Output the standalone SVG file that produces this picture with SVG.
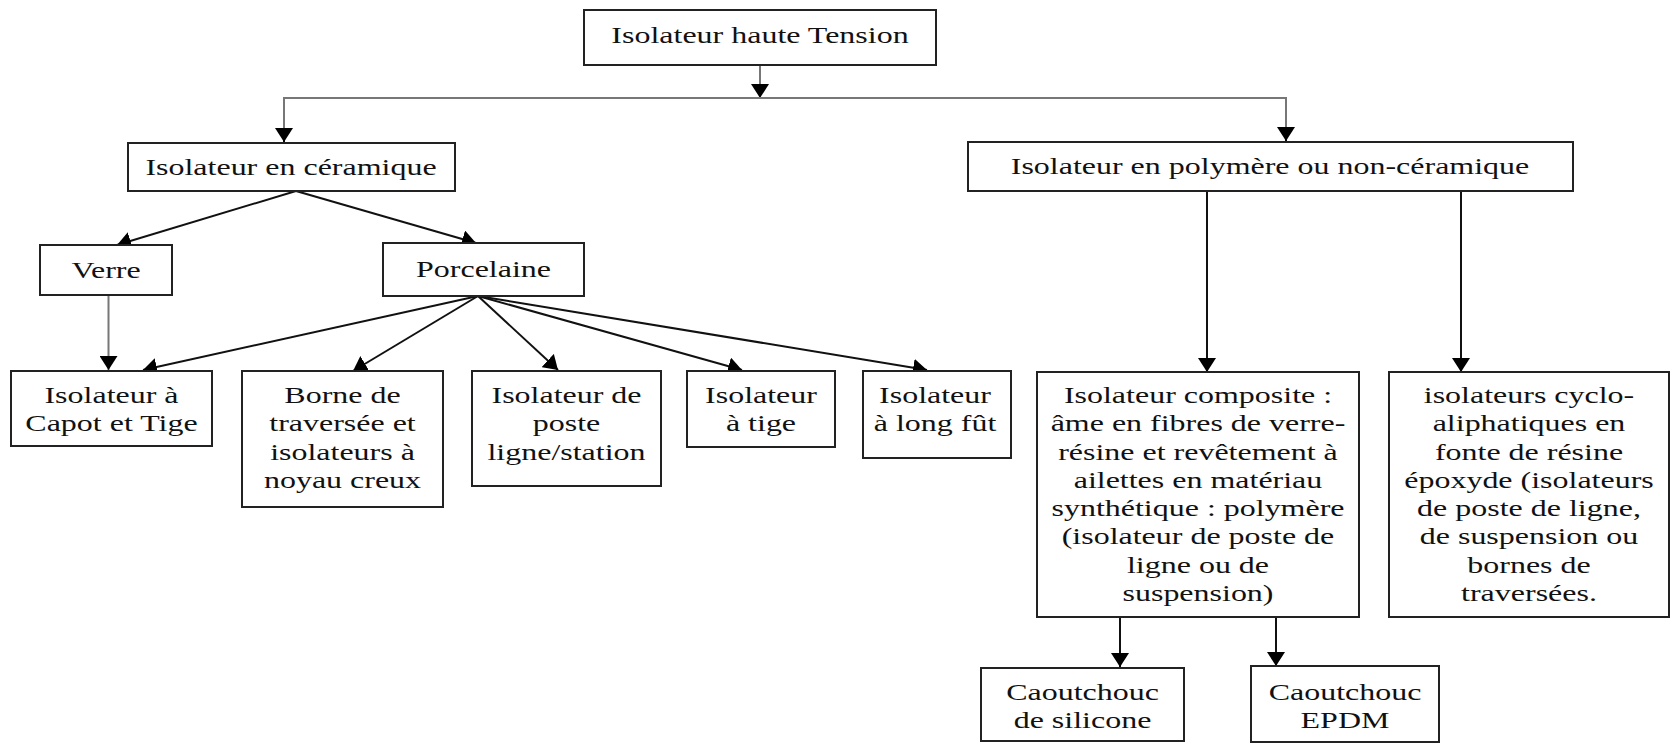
<svg xmlns="http://www.w3.org/2000/svg" width="1671" height="744" viewBox="0 0 1671 744">
<defs>
<style>
.t { font-family: "Liberation Serif", "Times New Roman", serif; font-size: 24px; fill: #111; text-anchor: middle; }
.b { fill: #fff; stroke: #222; stroke-width: 2; }
.c { fill: none; stroke: #111; stroke-width: 2; }
.g { fill: none; stroke: #777; stroke-width: 2; }
</style>
<marker id="ah" markerUnits="userSpaceOnUse" markerWidth="14" markerHeight="18" viewBox="0 0 14 18" refX="14" refY="9" orient="auto">
<path d="M0,0 L14,9 L0,18 z" fill="#000"/>
</marker>
</defs>
<rect width="1671" height="744" fill="#fff"/>

<g id="connectors">
<line class="g" x1="760" y1="65" x2="760" y2="98" marker-end="url(#ah)"/>
<polyline class="g" points="284,142 284,98 1286,98 1286,140"/>
<line class="c" x1="284" y1="130" x2="284" y2="142" marker-end="url(#ah)"/>
<line class="c" x1="1286" y1="128" x2="1286" y2="141" marker-end="url(#ah)"/>
<line class="c" x1="296" y1="191" x2="117" y2="245" marker-end="url(#ah)"/>
<line class="c" x1="296" y1="191" x2="476" y2="243" marker-end="url(#ah)"/>
<line class="g" x1="108.5" y1="295" x2="108.5" y2="370" marker-end="url(#ah)"/>
<line class="c" x1="478" y1="296" x2="143" y2="370" marker-end="url(#ah)"/>
<line class="c" x1="478" y1="296" x2="353" y2="371" marker-end="url(#ah)"/>
<line class="c" x1="478" y1="296" x2="558" y2="370" marker-end="url(#ah)"/>
<line class="c" x1="478" y1="296" x2="742" y2="370" marker-end="url(#ah)"/>
<line class="c" x1="478" y1="296" x2="927" y2="370" marker-end="url(#ah)"/>
<line class="c" x1="1207" y1="191" x2="1207" y2="372" marker-end="url(#ah)"/>
<line class="c" x1="1461" y1="191" x2="1461" y2="372" marker-end="url(#ah)"/>
<line class="c" x1="1120" y1="617" x2="1120" y2="667" marker-end="url(#ah)"/>
<line class="c" x1="1276" y1="617" x2="1276" y2="666" marker-end="url(#ah)"/>
</g>

<g id="n-top">
<rect class="b" x="584" y="10" width="352" height="55"/>
<text class="t" transform="translate(760,43) scale(1.333,1)">Isolateur haute Tension</text>
</g>

<g id="n-ceramique">
<rect class="b" x="128" y="143" width="327" height="48"/>
<text class="t" transform="translate(291,175) scale(1.333,1)">Isolateur en céramique</text>
</g>

<g id="n-polymere">
<rect class="b" x="968" y="142" width="605" height="49"/>
<text class="t" transform="translate(1270,174) scale(1.333,1)">Isolateur en polymère ou non-céramique</text>
</g>

<g id="n-verre">
<rect class="b" x="40" y="245" width="132" height="50"/>
<text class="t" transform="translate(106,278) scale(1.333,1)">Verre</text>
</g>

<g id="n-porcelaine">
<rect class="b" x="383" y="243" width="201" height="53"/>
<text class="t" transform="translate(483.5,277) scale(1.333,1)">Porcelaine</text>
</g>

<g id="n-capot">
<rect class="b" x="11" y="371" width="201" height="75"/>
<text class="t" transform="translate(111.5,403) scale(1.333,1)"><tspan x="0" y="0">Isolateur à</tspan><tspan x="0" y="28.5">Capot et Tige</tspan></text>
</g>

<g id="n-borne">
<rect class="b" x="242" y="371" width="201" height="136"/>
<text class="t" transform="translate(342.5,403) scale(1.333,1)"><tspan x="0" y="0">Borne de</tspan><tspan x="0" y="28.5">traversée et</tspan><tspan x="0" y="57">isolateurs à</tspan><tspan x="0" y="85.5">noyau creux</tspan></text>
</g>

<g id="n-poste">
<rect class="b" x="472" y="371" width="189" height="115"/>
<text class="t" transform="translate(566.5,403) scale(1.333,1)"><tspan x="0" y="0">Isolateur de</tspan><tspan x="0" y="28.5">poste</tspan><tspan x="0" y="57">ligne/station</tspan></text>
</g>

<g id="n-tige">
<rect class="b" x="687" y="371" width="148" height="76"/>
<text class="t" transform="translate(761,403) scale(1.333,1)"><tspan x="0" y="0">Isolateur</tspan><tspan x="0" y="28.5">à tige</tspan></text>
</g>

<g id="n-longfut">
<rect class="b" x="863" y="371" width="148" height="87"/>
<text class="t" transform="translate(935,403) scale(1.333,1)"><tspan x="0" y="0">Isolateur</tspan><tspan x="0" y="28.5">à long fût</tspan></text>
</g>

<g id="n-composite">
<rect class="b" x="1037" y="372" width="322" height="245"/>
<text class="t" transform="translate(1198,403) scale(1.333,1)"><tspan x="0" y="0">Isolateur composite :</tspan><tspan x="0" y="28.3">âme en fibres de verre-</tspan><tspan x="0" y="56.6">résine et revêtement à</tspan><tspan x="0" y="84.9">ailettes en matériau</tspan><tspan x="0" y="113.2">synthétique : polymère</tspan><tspan x="0" y="141.5">(isolateur de poste de</tspan><tspan x="0" y="169.8">ligne ou de</tspan><tspan x="0" y="198.1">suspension)</tspan></text>
</g>

<g id="n-cyclo">
<rect class="b" x="1389" y="372" width="280" height="245"/>
<text class="t" transform="translate(1529,403) scale(1.333,1)"><tspan x="0" y="0">isolateurs cyclo-</tspan><tspan x="0" y="28.3">aliphatiques en</tspan><tspan x="0" y="56.6">fonte de résine</tspan><tspan x="0" y="84.9">époxyde (isolateurs</tspan><tspan x="0" y="113.2">de poste de ligne,</tspan><tspan x="0" y="141.5">de suspension ou</tspan><tspan x="0" y="169.8">bornes de</tspan><tspan x="0" y="198.1">traversées.</tspan></text>
</g>

<g id="n-silicone">
<rect class="b" x="981" y="668" width="203" height="73"/>
<text class="t" transform="translate(1082.5,700) scale(1.333,1)"><tspan x="0" y="0">Caoutchouc</tspan><tspan x="0" y="28">de silicone</tspan></text>
</g>

<g id="n-epdm">
<rect class="b" x="1251" y="666" width="188" height="76"/>
<text class="t" transform="translate(1345,700) scale(1.333,1)"><tspan x="0" y="0">Caoutchouc</tspan><tspan x="0" y="28">EPDM</tspan></text>
</g>
</svg>
